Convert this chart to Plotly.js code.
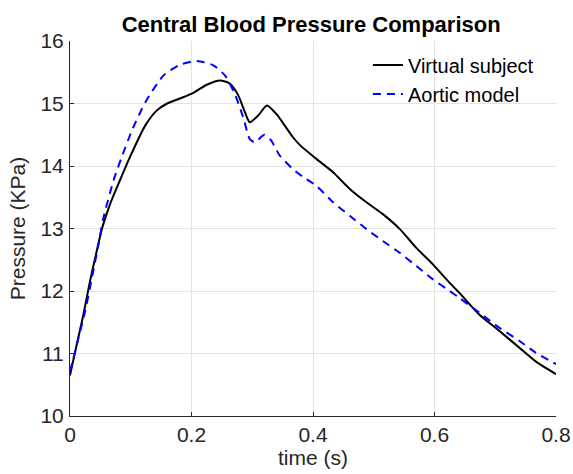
<!DOCTYPE html>
<html>
<head>
<meta charset="utf-8">
<script src="https://cdn.plot.ly/plotly-3.0.1.min.js"></script>
<style>html,body{margin:0;padding:0;background:#fff;}#chart{width:573px;height:474px;}</style>
</head>
<body>
<div id="chart"></div>
<script>
var subjectTime = [0, 0.011, 0.022, 0.033, 0.044, 0.053, 0.066, 0.08, 0.099, 0.124, 0.143, 0.16, 0.181, 0.203, 0.225, 0.247, 0.263, 0.277, 0.288, 0.296, 0.31, 0.324, 0.34, 0.367, 0.379, 0.406, 0.433, 0.461, 0.488, 0.515, 0.543, 0.57, 0.597, 0.625, 0.641, 0.674, 0.707, 0.74, 0.767, 0.8];
var subjectPressure = [10.65, 11.14, 11.62, 12.16, 12.64, 13.01, 13.39, 13.72, 14.15, 14.65, 14.89, 15.0, 15.08, 15.17, 15.30, 15.37, 15.32, 15.13, 14.86, 14.70, 14.81, 14.97, 14.83, 14.46, 14.33, 14.11, 13.90, 13.63, 13.42, 13.23, 12.99, 12.69, 12.43, 12.13, 11.97, 11.62, 11.36, 11.09, 10.87, 10.67];

var modelTime = [0, 0.014, 0.025, 0.036, 0.047, 0.055, 0.072, 0.085, 0.102, 0.124, 0.154, 0.181, 0.209, 0.236, 0.255, 0.271, 0.285, 0.296, 0.304, 0.32, 0.331, 0.345, 0.367, 0.383, 0.406, 0.433, 0.461, 0.488, 0.515, 0.543, 0.57, 0.597, 0.625, 0.641, 0.674, 0.707, 0.74, 0.767, 0.8];
var modelPressure = [10.71, 11.25, 11.68, 12.21, 12.75, 13.17, 13.78, 14.14, 14.57, 15.02, 15.45, 15.62, 15.68, 15.61, 15.45, 15.16, 14.78, 14.43, 14.38, 14.50, 14.41, 14.17, 13.95, 13.83, 13.68, 13.42, 13.20, 12.99, 12.80, 12.61, 12.40, 12.19, 12.0, 11.89, 11.65, 11.41, 11.20, 11.01, 10.83];

var xTicks = [0, 0.2, 0.4, 0.6, 0.8];
var xTickLabels = ['0', '0.2', '0.4', '0.6', '0.8'];
var yTicks = [10, 11, 12, 13, 14, 15, 16];
var yTickLabels = ['10', '11', '12', '13', '14', '15', '16'];

var FONT = 'Liberation Sans, Arial, Helvetica, sans-serif';

var traces = [
  {x: subjectTime, y: subjectPressure, mode: 'lines', name: 'Virtual subject',
   line: {color: '#000000', width: 2, shape: 'spline', smoothing: 0.6}},
  {x: modelTime, y: modelPressure, mode: 'lines', name: 'Aortic model',
   line: {color: '#0000ff', width: 2, dash: '8px,6px', shape: 'spline', smoothing: 0.6}}
];

var axisCommon = {
  showline: true, linecolor: '#262626', linewidth: 1, mirror: false,
  ticks: 'inside', ticklen: 4, tickcolor: '#262626', tickwidth: 1,
  showgrid: true, gridcolor: '#e3e3e3', gridwidth: 1, zeroline: false,
  automargin: false,
  tickfont: {family: FONT, size: 21, color: '#262626'}
};

var layout = {
  width: 573, height: 474,
  margin: {l: 70, r: 17, t: 41, b: 58},
  paper_bgcolor: '#ffffff', plot_bgcolor: '#ffffff',
  title: {text: '<b>Central Blood Pressure Comparison</b>', x: 0.543, xanchor: 'center', y: 0.948, yanchor: 'middle',
          font: {family: FONT, size: 22, color: '#000000'}},
  xaxis: Object.assign({}, axisCommon, {
    range: [0, 0.8], tickmode: 'array', tickvals: xTicks, ticktext: xTickLabels,
    title: {text: 'time (s)', font: {family: FONT, size: 21, color: '#262626'}, standoff: 3}
  }),
  yaxis: Object.assign({}, axisCommon, {
    range: [10, 16], tickmode: 'array', tickvals: yTicks, ticktext: yTickLabels,
    ticklabelstandoff: 1,
    title: {text: 'Pressure (KPa)', font: {family: FONT, size: 21, color: '#262626'}, standoff: 9}
  }),
  showlegend: true,
  legend: {x: 0.613, y: 0.988, xanchor: 'left', yanchor: 'top', bgcolor: 'rgba(255,255,255,0)',
           borderwidth: 0, font: {family: FONT, size: 20, color: '#000000'}, tracegroupgap: 0, itemwidth: 30}
};

Plotly.newPlot('chart', traces, layout, {staticPlot: true, displayModeBar: false});
</script>
</body>
</html>
